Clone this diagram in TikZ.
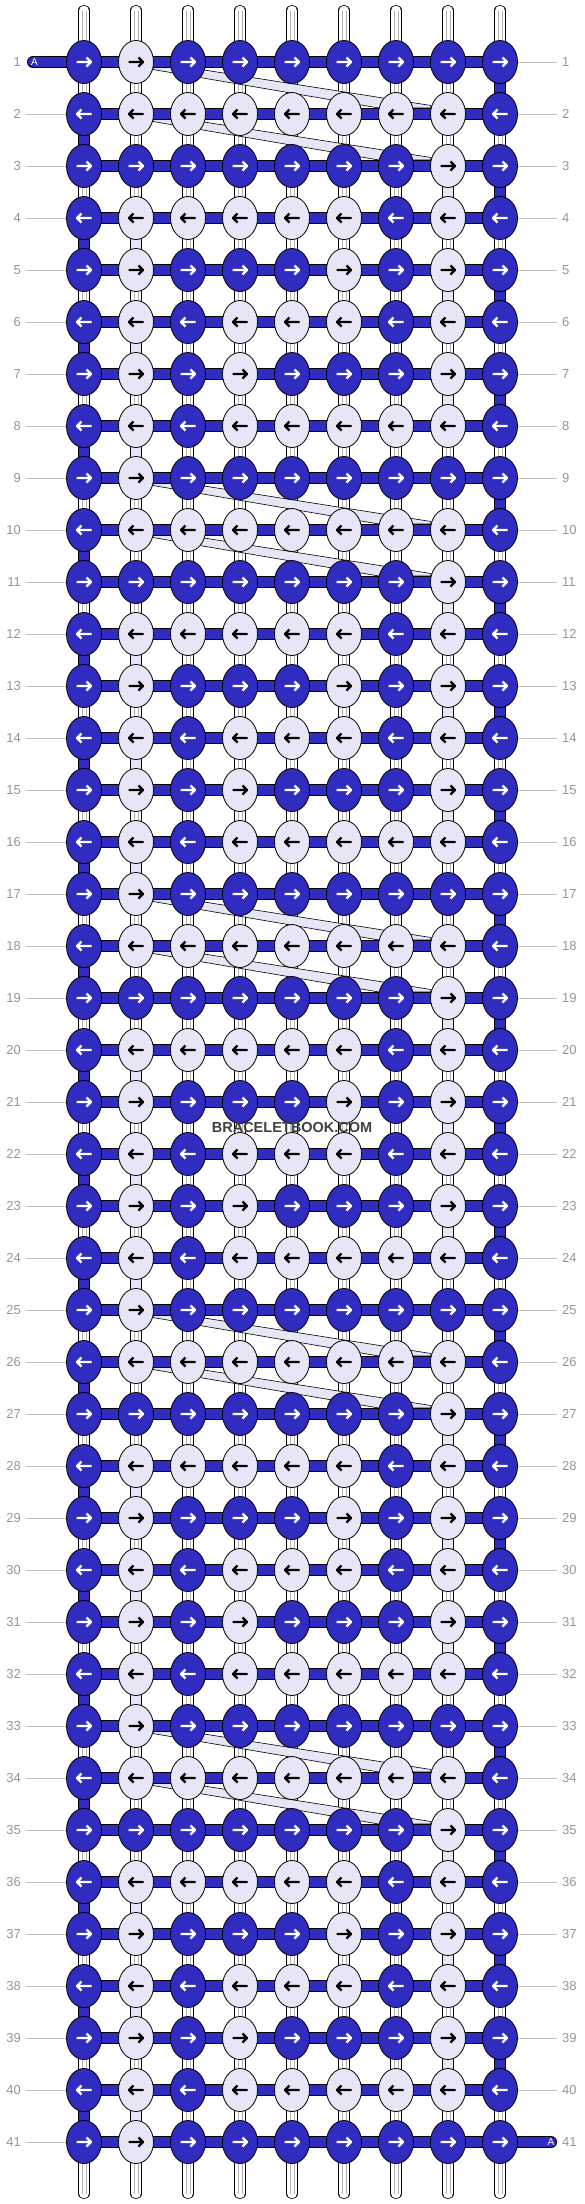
\documentclass[tikz,border=0pt]{standalone}
\usepackage{fontspec}
\setmainfont{Liberation Sans}
\usetikzlibrary{shapes.geometric}
\definecolor{bblue}{RGB}{47,44,191}
\definecolor{lav}{RGB}{230,230,246}
\definecolor{labgray}{RGB}{150,150,150}
\definecolor{linegray}{RGB}{192,192,192}
\definecolor{wmgray}{RGB}{64,64,64}
\def\patrow#1{\ifcase#1\or 1,0,1,1,1,1,1,1,1\or 1,0,0,0,0,0,0,0,1\or 1,1,1,1,1,1,1,0,1\or 1,0,0,0,0,0,1,0,1\or 1,0,1,1,1,0,1,0,1\or 1,0,1,0,0,0,1,0,1\or 1,0,1,0,1,1,1,0,1\or 1,0,1,0,0,0,0,0,1\fi}
\begin{document}
\begin{tikzpicture}[x=1pt,y=-1pt,
 strand/.style={draw=black, line width=0.8pt, double=white, double distance=9.6pt, line cap=round},
 stripe/.style={draw=black!30, line width=0.6pt},
 seg/.style={draw=black, line width=0.8pt, double=#1, double distance=9.6pt},
 bar/.style={draw=black, line width=0.8pt, double=bblue, double distance=10.4pt},
 band/.style={fill=lav, draw=black, line width=0.6pt, line join=round},
 knot/.style={ellipse, draw=black, line width=0.8pt, minimum width=35pt, minimum height=43pt, inner sep=0pt},
 arr/.style={line width=2.3pt, line cap=butt, line join=round},
 lab/.style={text=labgray, font=\fontsize{13}{13}\selectfont, inner sep=0pt},
 lline/.style={draw=linegray, line width=0.8pt},
 atext/.style={text=white, font=\fontsize{10}{10}\selectfont, inner sep=0pt},
 wm/.style={text=wmgray, font=\bfseries\fontsize{14.5}{14.5}\selectfont, inner sep=0pt}]
\useasboundingbox (0,0) rectangle (584,2204);
\fill[white] (0,0) rectangle (584,2204);
% grid coordinates
\foreach \rr in {1,...,41}{\foreach \cc in {1,...,9}{\coordinate (p-\rr-\cc) at ({32+52*\cc},{10+52*\rr});}}
\foreach \cc in {1,...,9}{\coordinate (t-\cc) at ({32+52*\cc},10.5); \coordinate (b-\cc) at ({32+52*\cc},2193.5);}
% vertical strings
\foreach \cc in {1,...,9}{
  \draw[strand] (t-\cc) -- (b-\cc);
  \draw[stripe] ([xshift=-2.2pt]t-\cc) -- ([xshift=-2.2pt]b-\cc);
  \draw[stripe] ([xshift=2.2pt]t-\cc) -- ([xshift=2.2pt]b-\cc);
}
% edge turns
\foreach \rr in {2,4,...,40}{\pgfmathtruncatemacro\rn{\rr+1}\draw[seg=bblue] (p-\rr-1) -- (p-\rn-1);}
\foreach \rr in {1,3,...,39}{\pgfmathtruncatemacro\rn{\rr+1}\draw[seg=bblue] (p-\rr-9) -- (p-\rn-9);}
% lavender segments
\foreach \rr in {4,6,8,12,14,16,20,22,24,28,30,32,36,38,40}{\pgfmathtruncatemacro\rn{\rr+1}\draw[seg=lav] (p-\rr-2) -- (p-\rn-2);}
\foreach \rr in {3,5,7,11,13,15,19,21,23,27,29,31,35,37,39}{\pgfmathtruncatemacro\rn{\rr+1}\draw[seg=lav] (p-\rr-8) -- (p-\rn-8);}
% diagonal bands
\foreach \rr in {1,2,9,10,17,18,25,26,33,34}{
  \pgfmathsetmacro\yy{10+52*\rr}
  \filldraw[band] (153,\yy) -- (431,\yy+43.5) -- (431,\yy+46) -- (379,\yy+46) -- (153,\yy+7.5) -- cycle;
}
% horizontal bars
\coordinate (aL) at (33,62);
\coordinate (aR) at (551,2142);
\draw[bar, line cap=round] (aL) -- (p-1-9);
\foreach \rr in {2,...,40}{\draw[bar] (p-\rr-1) -- (p-\rr-9);}
\draw[bar, line cap=round] (p-41-1) -- (aR);
\node[atext] (atL) at (34.5,62) {A};
\node[atext] (atR) at (551,2142) {A};
% knots
\foreach \rr in {1,...,41}{
  \pgfmathtruncatemacro\pp{mod(\rr-1,8)+1}
  \edef\pat{\patrow{\pp}}
  \ifodd\rr \def\dd{1}\else\def\dd{-1}\fi
  \foreach \vv [count=\cc] in \pat {
    \ifnum\vv=1 \def\kcol{bblue}\def\acol{white}\else\def\kcol{lav}\def\acol{black}\fi
    \node[knot, fill=\kcol] (k-\rr-\cc) at (p-\rr-\cc) {};
    \draw[arr, draw=\acol, shift={(p-\rr-\cc)}, xscale=\dd] (-7.5,0) -- (7,0) (2.5,-4.5) -- (7,0) -- (2.5,4.5);
  }
}
% row labels
\foreach \rr in {1,...,41}{
  \node[lab, anchor=east] (ll-\rr) at (21,{10+52*\rr}) {\rr};
  \node[lab, anchor=west] (lr-\rr) at (562,{10+52*\rr}) {\rr};
}
\foreach \rr in {2,...,41}{\coordinate (la-\rr) at (26,{10+52*\rr}); \draw[lline] (la-\rr) -- (k-\rr-1);}
\foreach \rr in {1,...,40}{\coordinate (ra-\rr) at (557,{10+52*\rr}); \draw[lline] (k-\rr-9) -- (ra-\rr);}
% watermark
\node[wm] (wm) at (292,1127) {BRACELETBOOK.COM};
\end{tikzpicture}
\end{document}
